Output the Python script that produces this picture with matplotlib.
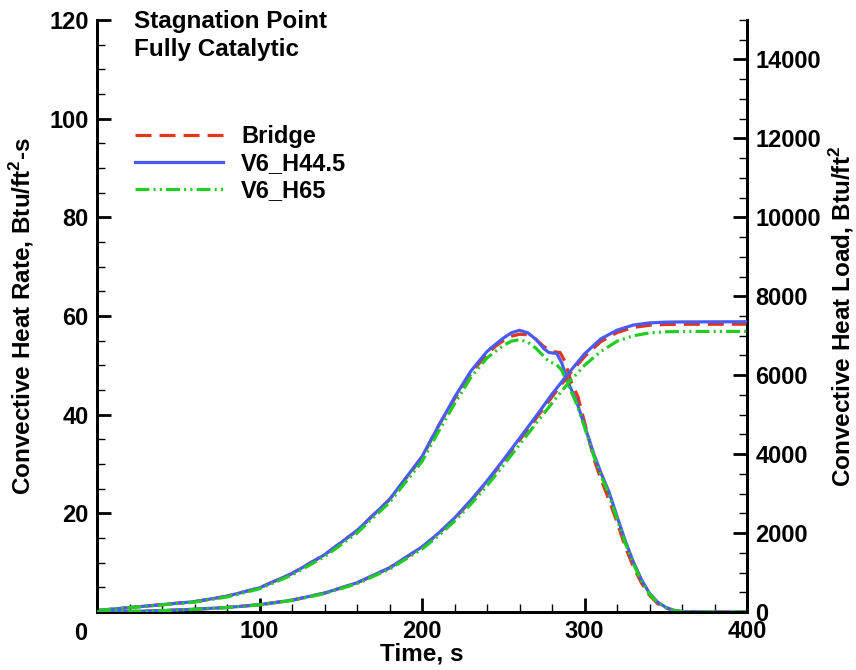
import matplotlib
matplotlib.use("Agg")
import matplotlib.pyplot as plt
from matplotlib.ticker import MultipleLocator, FixedLocator

plt.rcParams['font.family'] = ['Liberation Sans', 'DejaVu Sans']
plt.rcParams['font.weight'] = 'bold'
plt.rcParams['mathtext.fontset'] = 'custom'
plt.rcParams['mathtext.rm'] = 'Liberation Sans:bold'
plt.rcParams['mathtext.bf'] = 'Liberation Sans:bold'
plt.rcParams['lines.scale_dashes'] = False

# heat rate (left axis), Btu/ft2-s
t_rate = [0, 20, 40, 60, 80, 100, 120, 140, 160, 180, 200, 210, 220, 230, 240, 245, 250,
          255, 260, 265, 270, 275, 278, 283, 286, 290, 295, 300, 306, 310, 315, 320, 325,
          330, 335, 340, 345, 350, 355, 360, 370, 400]
rate_v6_h445 = [0.3, 0.9, 1.5, 2.1, 3.2, 4.9, 7.8, 11.6, 16.5, 22.8, 31.5, 37.6, 43.5, 48.8,
                52.8, 54.2, 55.5, 56.6, 57.1, 56.6, 55.3, 53.4, 52.6, 52.4, 50.5, 46.5, 42.8,
                37.8, 31.8, 28.3, 24.4, 19.4, 14.5, 10.2, 6.6, 3.8, 2.0, 0.95, 0.35, 0.08, 0, 0]
rate_v6_h65 = [0.3, 0.85, 1.45, 2.0, 3.05, 4.7, 7.5, 11.2, 16.0, 22.2, 30.5, 36.5, 42.2, 47.5,
               51.5, 52.8, 54.0, 54.9, 55.2, 54.7, 53.5, 51.8, 50.8, 50.1, 49.0, 46.0, 42.3,
               37.5, 31.3, 27.8, 23.8, 18.9, 14.0, 9.8, 6.3, 3.6, 1.9, 0.9, 0.3, 0.06, 0, 0]

t_rate_br = [0, 20, 40, 60, 80, 100, 120, 140, 160, 180, 200, 210, 220, 230, 240, 245, 250,
             255, 260, 265, 270, 275, 280, 285, 288, 292, 296, 300, 306, 310, 315, 320, 325,
             330, 335, 340, 345, 350, 355, 360, 370, 400]
rate_bridge = [0.3, 0.9, 1.5, 2.1, 3.2, 4.9, 7.8, 11.6, 16.5, 22.8, 31.3, 37.7, 43.2, 48.3,
               52.3, 53.8, 55.0, 55.9, 56.3, 56.2, 55.3, 53.8, 52.8, 52.6, 50.8, 46.5, 43.6,
               38.5, 30.8, 27.0, 22.8, 18.2, 13.3, 9.2, 5.9, 3.4, 1.7, 0.8, 0.3, 0.05, 0, 0]

# heat load (right axis), Btu/ft2
t_load = [0, 20, 40, 60, 80, 100, 120, 140, 160, 180, 200, 210, 220, 230, 240, 250, 260,
          270, 280, 290, 300, 310, 320, 330, 340, 350, 360, 400]
load_bridge = [0, 12, 35, 70, 115, 185, 300, 478, 737, 1115, 1640, 1978, 2365, 2810, 3295,
               3815, 4355, 4895, 5450, 5990, 6470, 6850, 7080, 7210, 7265, 7285, 7290, 7292]
load_v6_h445 = [0, 12, 35, 70, 115, 185, 300, 480, 740, 1120, 1650, 1990, 2380, 2830, 3320,
                3850, 4400, 4950, 5520, 6040, 6540, 6920, 7140, 7270, 7325, 7345, 7350, 7355]
load_v6_h65 = [0, 12, 34, 68, 112, 180, 292, 465, 718, 1085, 1595, 1925, 2300, 2730, 3200,
               3710, 4240, 4770, 5290, 5800, 6250, 6600, 6860, 7000, 7070, 7100, 7108, 7110]

x_ticks = [0, 100, 200, 300, 400]
x_labels = ['', '100', '200', '300', '400']

RED = '#e2361a'
BLUE = '#4b5bf2'
GREEN = '#22cc22'
red_ls = (0, (11.5, 5.8))
green_ls = (0, (10, 3, 1.5, 3, 1.5, 3))
LW = 2.3

fig = plt.figure(figsize=(8.56, 6.70), dpi=100)
ax = fig.add_axes([97 / 856, 1 - 612 / 670, 650 / 856, 592 / 670])
ax2 = ax.twinx()

ax.plot(t_rate_br, rate_bridge, color=RED, lw=LW, ls=red_ls, dash_capstyle='butt',
        label='Bridge', zorder=2)
ax.plot(t_rate, rate_v6_h445, color=BLUE, lw=LW, label='V6_H44.5', zorder=3)
ax.plot(t_rate, rate_v6_h65, color=GREEN, lw=LW, ls=green_ls, dash_capstyle='butt',
        label='V6_H65', zorder=4)

ax2.plot(t_load, load_bridge, color=RED, lw=LW, ls=red_ls, dash_capstyle='butt', zorder=2)
ax2.plot(t_load, load_v6_h445, color=BLUE, lw=LW, zorder=3)
ax2.plot(t_load, load_v6_h65, color=GREEN, lw=LW, ls=green_ls, dash_capstyle='butt', zorder=4)

ax.set_xlim(0, 400)
ax.set_ylim(0, 120)
ax2.set_ylim(0, 15000)

for a in (ax, ax2):
    a.spines['top'].set_visible(False)
    for s in a.spines.values():
        s.set_linewidth(2.0)

ax.xaxis.set_major_locator(FixedLocator(x_ticks))
ax.set_xticklabels(x_labels)
ax.xaxis.set_minor_locator(MultipleLocator(20))
ax.yaxis.set_major_locator(FixedLocator([20, 40, 60, 80, 100, 120]))
ax.yaxis.set_minor_locator(MultipleLocator(5))
ax2.yaxis.set_major_locator(MultipleLocator(2000))
ax2.yaxis.set_minor_locator(MultipleLocator(500))

ax.tick_params(axis='both', which='major', direction='in', length=10, width=2,
               labelsize=17, pad=6, top=False, right=False)
ax.tick_params(axis='both', which='minor', direction='in', length=6, width=1,
               top=False, right=False)
ax2.tick_params(axis='y', which='major', direction='in', length=10, width=2,
                labelsize=17, pad=6)
ax2.tick_params(axis='y', which='minor', direction='in', length=6, width=1)

# x = 0 label sits left of the axis corner
ax.annotate('0', xy=(0, 0), xycoords='data', xytext=(-11.5, -7),
            textcoords='offset points', ha='center', va='top', fontsize=17,
            fontweight='bold')

ax.set_xlabel('Time, s', fontsize=17.5, fontweight='bold')
ax.xaxis.set_label_coords(0.5, -0.052)
ax.set_ylabel(r'Convective Heat Rate, Btu/ft$^\mathbf{2}$-s', fontsize=17.5,
              fontweight='bold')
ax.yaxis.set_label_coords(-0.094, 0.5)
ax2.set_ylabel(r'Convective Heat Load, Btu/ft$^\mathbf{2}$', fontsize=17.5,
               fontweight='bold')
ax2.yaxis.set_label_coords(1.124, 0.5)

ax.text(0.0569, 0.9873, 'Stagnation Point', transform=ax.transAxes, fontsize=17.5,
        fontweight='bold', va='baseline', ha='left')
ax.text(0.0569, 0.9392, 'Fully Catalytic', transform=ax.transAxes, fontsize=17.5,
        fontweight='bold', va='baseline', ha='left')

ax.legend(loc='upper left', bbox_to_anchor=(0.0585, 0.8226), frameon=False,
          fontsize=17, handlelength=3.73, handletextpad=0.76, labelspacing=0.17,
          borderpad=0, borderaxespad=0)

fig.savefig('out.png', dpi=100)
